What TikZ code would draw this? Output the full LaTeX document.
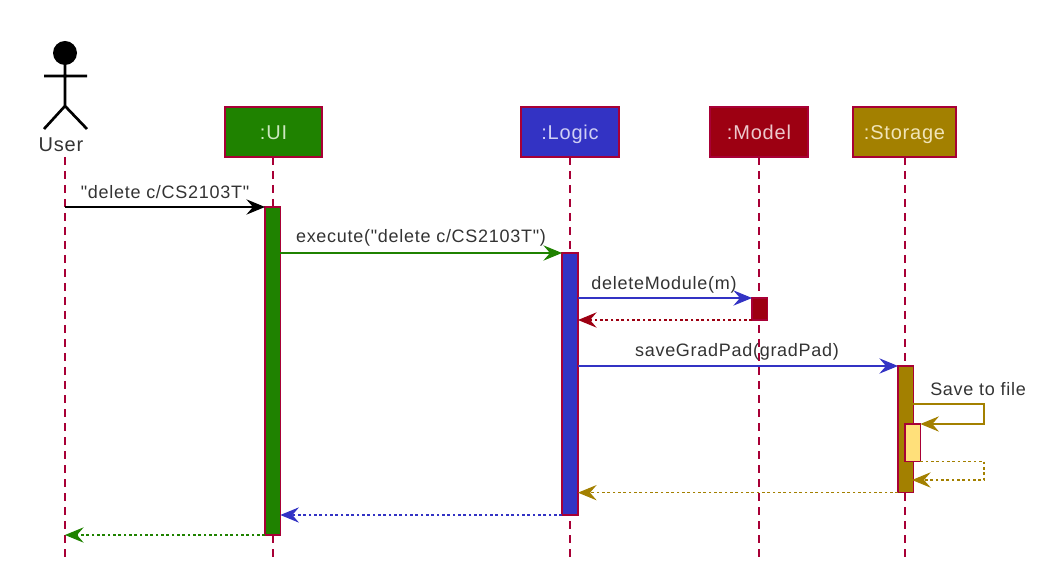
\documentclass[tikz,border=0pt]{standalone}
\usepackage{fontspec}
\newfontfamily\diagfont[LetterSpace=4]{Liberation Sans}
\usetikzlibrary{arrows.meta}
\definecolor{uiCol}{HTML}{1F8200}
\definecolor{logicCol}{HTML}{3333C4}
\definecolor{modelCol}{HTML}{9D0012}
\definecolor{storageCol}{HTML}{A38000}
\definecolor{fileCol}{HTML}{FFE07A}
\definecolor{edgeCol}{HTML}{A80036}
\definecolor{textCol}{HTML}{333333}
\definecolor{uiTxt}{HTML}{CDE8C0}
\definecolor{logicTxt}{HTML}{D0D0F4}
\definecolor{modelTxt}{HTML}{ECC8CC}
\definecolor{storageTxt}{HTML}{F0E4B8}
\tikzset{
  headbox/.style={draw=edgeCol, line width=1.6pt, outer sep=0pt, minimum height=37.5pt, inner sep=0pt, anchor=north west, text height=12pt, text depth=0pt, font=\diagfont\fontsize{15}{17}\selectfont},
  barbox/.style={draw=edgeCol, line width=1pt, outer sep=0pt, inner sep=0pt, anchor=north west},
  lifeline/.style={draw=edgeCol, line width=0.8pt, dash pattern=on 6pt off 4.5pt},
  msg/.style={line width=0.8pt, -{Stealth[length=14pt,width=11.5pt,inset=5pt]}},
  ret/.style={msg, dash pattern=on 2pt off 2pt},
  msglabel/.style={font=\diagfont\fontsize{13.5}{15}\selectfont, text=textCol, inner sep=0pt, anchor=base}
}
\begin{document}
\begin{tikzpicture}[x=0.75pt, y=-0.75pt]
\useasboundingbox (0,0) rectangle (1048,580);
% Lifelines and heads
\foreach \name/\x/\w/\lx/\col/\lbl in {ui/225/97/273/ui/:UI, logic/521/98/570/logic/:Logic, model/710/98/759/model/:Model, storage/853/103/905/storage/:Storage} {
    \coordinate (\name End) at (\lx,558);
    \draw[lifeline] (\lx,157) -- (\name End);
    \node[headbox, fill=\col Col, text=\col Txt, minimum width=\w*0.75pt] (\name Head) at (\x,107) {\lbl};
}

% Actor
\fill (65,53) circle (9pt);
\draw[line width=2pt] (65,53) -- (65,106) (44,76) -- (87,76) (44,129) -- (65,106) -- (87,129);
\node[font=\diagfont\fontsize{15}{17}\selectfont, text=textCol, inner sep=0pt] (userLbl) at (61,145) {User};
\coordinate (userTop) at (65,157);
\coordinate (userEnd) at (65,558);
\draw[lifeline] (userTop) -- (userEnd);

% Activation bars
\node[barbox, fill=uiCol, minimum width=11.5pt, minimum height=246pt] (uiBar) at (265,207) {};
\node[barbox, fill=logicCol, minimum width=12pt, minimum height=196.5pt] (logicBar) at (562,253) {};
\node[barbox, fill=modelCol, minimum width=11.5pt, minimum height=16.5pt] (modelBar) at (752,298) {};
\node[barbox, fill=storageCol, minimum width=11.5pt, minimum height=95pt] (storageBar) at (898,366) {};
\node[barbox, fill=fileCol, minimum width=11.5pt, minimum height=28pt] (fileBar) at (905,424) {};

% Calls
\draw[msg, black] (userEnd |- uiBar.north) -- (uiBar.north west);
\draw[msg, uiCol] (uiBar.east |- logicBar.north) -- (logicBar.north west);
\draw[msg, logicCol] (logicBar.east |- modelBar.north) -- (modelBar.north west);
\draw[msg, logicCol] (logicBar.east |- storageBar.north) -- (storageBar.north west);

% Returns
\draw[ret, modelCol] (modelBar.south west) -- (logicBar.east |- modelBar.south);
\draw[ret, storageCol] (storageBar.south west) -- (logicBar.east |- storageBar.south);
\draw[ret, logicCol] (logicBar.south west) -- (uiBar.east |- logicBar.south);
\draw[ret, uiCol] (uiBar.south west) -- (userEnd |- uiBar.south);

% Self call
\coordinate (selfOut) at (912,404);
\coordinate (selfBack) at (912,480);
\draw[msg, storageCol] (selfOut) -| (984,424) -- (fileBar.north east);
\draw[ret, storageCol] (fileBar.south east) -| (984,480) -- (selfBack);

% Labels
\node[msglabel] (deleteLbl) at (165,199) {"delete c/CS2103T"};
\node[msglabel] (executeLbl) at (421,243) {execute("delete c/CS2103T")};
\node[msglabel] (moduleLbl) at (664,290) {deleteModule(m)};
\node[msglabel] (saveLbl) at (737,357) {saveGradPad(gradPad)};
\node[msglabel] (fileLbl) at (978,396) {Save to file};
\end{tikzpicture}
\end{document}
